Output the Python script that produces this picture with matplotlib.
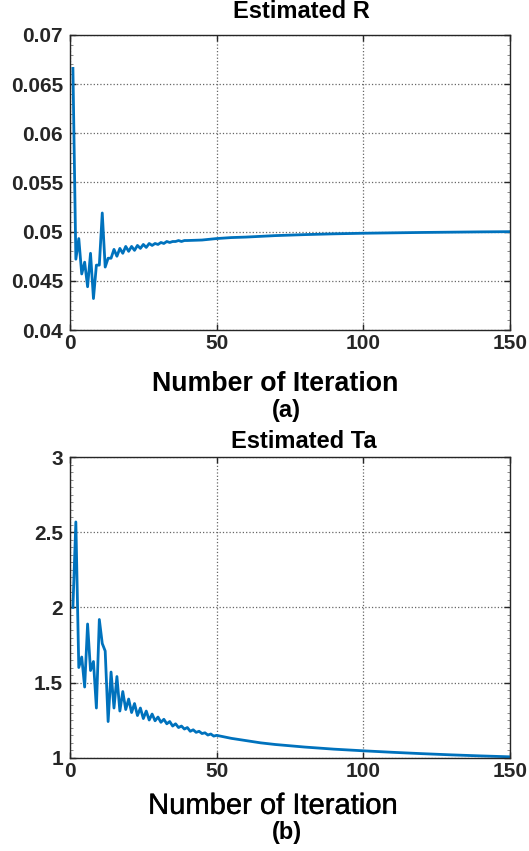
import matplotlib.pyplot as plt
import matplotlib.patheffects as pe
from matplotlib.ticker import MultipleLocator

plt.rcParams['font.family'] = ['Liberation Sans', 'DejaVu Sans']
plt.rcParams['font.weight'] = 'bold'

# Estimated R
r_iter = list(range(1, 41)) + [45, 50, 55, 60, 70, 80, 90, 100, 110, 120, 130, 140, 150]
r_vals = [0.0666, 0.0472, 0.0493, 0.0457, 0.0469, 0.0444, 0.0478, 0.0432, 0.0466, 0.0466,
          0.0519, 0.0464, 0.0473, 0.0473, 0.0482, 0.0475, 0.0483, 0.0478, 0.0485, 0.0480,
          0.0485, 0.0481, 0.0486, 0.0483, 0.0487, 0.0484, 0.0488, 0.0486, 0.0488, 0.0487,
          0.0489, 0.0488, 0.0490, 0.0489, 0.0490, 0.0490, 0.0491, 0.0490, 0.0491, 0.0491,
          0.04915, 0.0493, 0.0494, 0.04945, 0.0496, 0.0497, 0.04978, 0.04984, 0.04988,
          0.04992, 0.04995, 0.04998, 0.0500]

# Estimated Ta
ta_iter = list(range(1, 51)) + [55, 60, 65, 70, 80, 90, 100, 110, 120, 130, 140, 150]
ta_vals = [2.00, 2.57, 1.60, 1.67, 1.47, 1.89, 1.58, 1.64, 1.33, 1.92,
           1.76, 1.71, 1.24, 1.57, 1.33, 1.54, 1.31, 1.44, 1.32, 1.39,
           1.30, 1.36, 1.28, 1.33, 1.26, 1.31, 1.25, 1.29, 1.245, 1.27,
           1.235, 1.255, 1.225, 1.24, 1.21, 1.225, 1.20, 1.21, 1.19, 1.20,
           1.175, 1.185, 1.168, 1.175, 1.16, 1.165, 1.15, 1.157, 1.143, 1.148,
           1.128, 1.113, 1.098, 1.087, 1.07, 1.056, 1.045, 1.035, 1.026, 1.018, 1.011, 1.005]

line_color = '#0072BD'
dark = '#262626'

fig = plt.figure(figsize=(5.29, 8.51), dpi=100)
ax1 = fig.add_axes([0.1323, 0.6122, 0.8318, 0.3467])
ax2 = fig.add_axes([0.1323, 0.1098, 0.8318, 0.3527])


def style(ax, ylim, yticks, yminor, ylabels):
    ax.set_xlim(0, 150)
    ax.set_ylim(*ylim)
    ax.set_xticks([0, 50, 100, 150])
    ax.set_yticks(yticks)
    ax.set_yticklabels(ylabels)
    ax.yaxis.set_minor_locator(MultipleLocator(yminor))
    ax.tick_params(which='major', direction='in', length=4, width=1, colors=dark,
                   labelsize=15, top=True, right=True, pad=5)
    ax.tick_params(which='minor', direction='in', length=2, width=0.6, colors='#777777',
                   left=True, right=True)
    ax.tick_params(axis='x', pad=3)
    for lab in ax.get_xticklabels() + ax.get_yticklabels():
        lab.set_fontweight('bold')
    for s in ax.spines.values():
        s.set_color(dark)
        s.set_linewidth(1)
    ax.grid(True, which='major', linestyle=':', color='#666666', linewidth=0.9)


ax1.plot(r_iter, r_vals, color=line_color, linewidth=2.0)
style(ax1, (0.04, 0.07), [0.04, 0.045, 0.05, 0.055, 0.06, 0.065, 0.07], 0.001,
      ['0.04', '0.045', '0.05', '0.055', '0.06', '0.065', '0.07'])
ax1.text(0.525, 1.078, 'Estimated R', transform=ax1.transAxes, ha='center', va='center',
         fontsize=17, fontweight='bold')
ax1.set_xlabel('Number of Iteration', fontsize=19.3, fontweight='bold', labelpad=13, x=0.466)

ax2.plot(ta_iter, ta_vals, color=line_color, linewidth=2.0)
style(ax2, (1, 3), [1, 1.5, 2, 2.5, 3], 0.05, ['1', '1.5', '2', '2.5', '3'])
ax2.text(0.532, 1.053, 'Estimated Ta', transform=ax2.transAxes, ha='center', va='center',
         fontsize=17, fontweight='bold')
xl = ax2.set_xlabel('Number of Iteration', fontsize=21, fontweight='normal', labelpad=8, x=0.461)
# a bit heavier than regular, like the reference
xl.set_path_effects([pe.withStroke(linewidth=0.3, foreground='black')])

fig.text(0.542, 0.518, '(a)', ha='center', va='center', fontsize=17, fontweight='bold')
fig.text(0.542, 0.022, '(b)', ha='center', va='center', fontsize=17, fontweight='bold')

fig.savefig('out.png', dpi=100)
